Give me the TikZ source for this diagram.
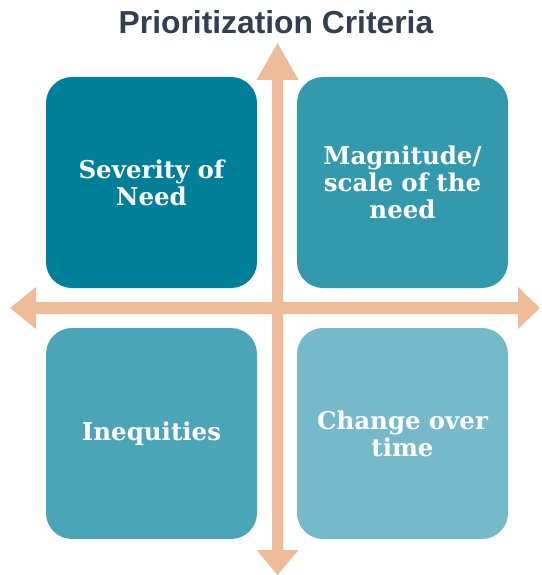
\documentclass[tikz,border=0pt]{standalone}
\usepackage{fontspec}
\setmainfont{DejaVu Serif}
\newfontfamily\titlefont{Liberation Sans}
\definecolor{cA}{HTML}{007F99}
\definecolor{cB}{HTML}{3399AD}
\definecolor{cC}{HTML}{4BA5B8}
\definecolor{cD}{HTML}{76B9C8}
\definecolor{arr}{HTML}{EFBC9A}
\definecolor{ttl}{HTML}{333E50}
\begin{document}
\begin{tikzpicture}[x=1pt,y=-1pt,
  quad/.style={draw=none, rounded corners=26pt, minimum width=211pt, minimum height=211pt,
    inner sep=0pt, text=white, align=center, text width=195pt,
    font=\fontsize{24.5}{27}\selectfont\bfseries},
  arrowshape/.style={fill=arr, draw=none}]
\useasboundingbox (0,0) rectangle (541,575);
\node[font=\titlefont\fontsize{31.8}{35}\selectfont\bfseries, text=ttl] (title) at (276,22) {Prioritization Criteria};
\node[quad, fill=cA] (sev) at (151.5,182.5) {Severity of\\Need};
\node[quad, fill=cB] (mag) at (402.5,182.5) {Magnitude/\\scale of the\\need};
\node[quad, fill=cC] (ineq) at (151.5,433.5) {Inequities};
\node[quad, fill=cD] (chg) at (402.5,433.5) {Change over\\time};
% horizontal double arrow
\fill[arrowshape] (10,308) -- (36,287) -- (36,302) -- (518,302) -- (518,287) -- (540,308)
  -- (518,329) -- (518,314) -- (36,314) -- (36,329) -- cycle;
% vertical double arrow
\fill[arrowshape] (277.5,43) -- (298.5,80) -- (283,80) -- (283,550) -- (298.5,550) -- (277.5,575)
  -- (256.5,550) -- (272,550) -- (272,80) -- (256.5,80) -- cycle;
\end{tikzpicture}
\end{document}
